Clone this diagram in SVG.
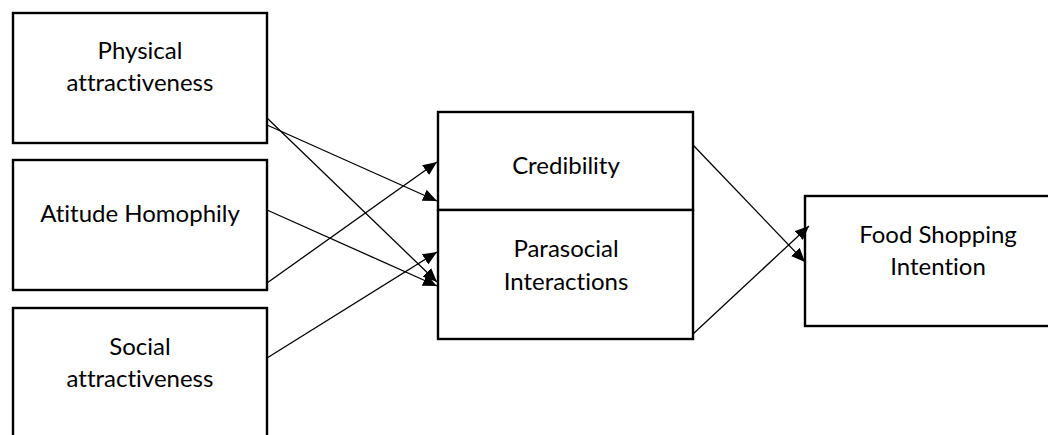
<svg xmlns="http://www.w3.org/2000/svg" width="1048" height="435" viewBox="0 0 1048 435">
<defs>
<style>
.box{fill:#fff;stroke:#000;stroke-width:2.4}
.lbl{font-family:Lato,"Open Sans","Liberation Sans",sans-serif;font-size:24px;fill:#000;text-anchor:middle;font-variant-ligatures:none;font-feature-settings:"liga" 0}
.ln{stroke:#000;stroke-width:1.3;fill:none}
</style>
<marker id="ah" viewBox="0 0 14 12" refX="14" refY="6" markerWidth="14" markerHeight="12" markerUnits="userSpaceOnUse" orient="auto">
<path d="M0,0 L14,6 L0,12 Z" fill="#000"/>
</marker>
</defs>
<g id="node-physical">
<rect class="box" x="13" y="13" width="254" height="130"/>
<text class="lbl" x="140" y="59">Physical</text>
<text class="lbl" x="140" y="91">attractiveness</text>
</g>
<g id="node-attitude">
<rect class="box" x="13" y="160" width="254" height="130"/>
<text class="lbl" x="140" y="222">Atitude Homophily</text>
</g>
<g id="node-social">
<rect class="box" x="13" y="308" width="254" height="140"/>
<text class="lbl" x="140" y="355">Social</text>
<text class="lbl" x="140" y="387">attractiveness</text>
</g>
<g id="node-credibility">
<rect class="box" x="438" y="112" width="255" height="98"/>
<text class="lbl" x="566" y="174">Credibility</text>
</g>
<g id="node-parasocial">
<rect class="box" x="438" y="210" width="255" height="129"/>
<text class="lbl" x="566" y="257">Parasocial</text>
<text class="lbl" x="566" y="290">Interactions</text>
</g>
<g id="node-food">
<rect class="box" x="805" y="196" width="250" height="130"/>
<text class="lbl" x="938" y="243">Food Shopping</text>
<text class="lbl" x="938" y="275">Intention</text>
</g>
<g id="connectors">
<line class="ln" x1="267" y1="118" x2="437" y2="282" marker-end="url(#ah)"/>
<line class="ln" x1="267" y1="125" x2="437" y2="201" marker-end="url(#ah)"/>
<line class="ln" x1="267" y1="210" x2="437" y2="286" marker-end="url(#ah)"/>
<line class="ln" x1="267" y1="283" x2="437" y2="162" marker-end="url(#ah)"/>
<line class="ln" x1="267" y1="358" x2="437" y2="252" marker-end="url(#ah)"/>
<line class="ln" x1="693" y1="145" x2="805" y2="262" marker-end="url(#ah)"/>
<line class="ln" x1="693" y1="334" x2="809" y2="226" marker-end="url(#ah)"/>
</g>
</svg>
